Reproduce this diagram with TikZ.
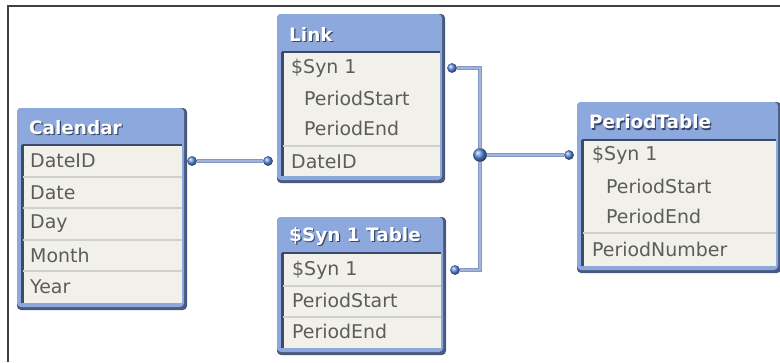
\documentclass[tikz,border=0pt]{standalone}
\usepackage{fontspec}
\setmainfont{DejaVu Sans}
\usetikzlibrary{calc}
\definecolor{framedark}{HTML}{4A5A7E}
\definecolor{headblue}{HTML}{8CA8DD}
\definecolor{bodybg}{HTML}{F1F0E9}
\definecolor{bodyedge}{HTML}{3C4B6C}
\definecolor{sepc}{HTML}{D2D2CC}
\definecolor{rowtext}{HTML}{5C5C5C}
\definecolor{connc}{HTML}{8498C8}
\definecolor{conninner}{HTML}{A4B3D8}
\definecolor{dotc}{HTML}{6090E8}
\definecolor{shadowtxt}{HTML}{3A4868}
\tikzset{
  rowlabel/.style={anchor=west, inner sep=0, text=rowtext, font=\fontsize{19}{20}\selectfont},
  titlelabel/.style={anchor=west, inner sep=0, text=white, font=\fontsize{18.5}{20}\selectfont\bfseries},
  titleshadow/.style={titlelabel, text=shadowtxt},
  seprule/.style={draw=sepc, line width=1.2},
  conn/.style={draw=connc, line width=1, double=conninner, double distance=1.2},
  smalldot/.style={circle, inner sep=0, minimum size=9.5, shading=ball, ball color=dotc},
  bigdot/.style={circle, inner sep=0, minimum size=13.5, shading=ball, ball color=dotc},
  tablebox/.style={rectangle, inner sep=0, draw=none},
  frameline/.style={draw=black!75, line width=1.4}
}
% #1 name, #2 x1, #3 y1, #4 x2, #5 y2, #6 header bottom, #7 title
\newcommand\qvtable[7]{%
  \fill[framedark, rounded corners=4] (#2,#3) rectangle (#4,#5);
  \fill[headblue, rounded corners=4] (#2,#3) rectangle (#4-3,#5-3);
  \fill[bodybg] (#2+5,#6) rectangle (#4-5,#5-7);
  \draw[bodyedge, line width=2.5] (#2+5,#6) -- (#4-5,#6);
  \draw[bodyedge, line width=3] (#2+5.5,#6) -- (#2+5.5,#5-7);
  \node[tablebox, minimum width=#4-#2, minimum height=#5-#3] (#1) at ({(#2+#4)/2},{(#3+#5)/2}) {};
  \node[titleshadow] (#1-tshadow) at (#2+13.2,{(#3+#6)/2+2.2}) {#7};
  \node[titlelabel] (#1-title) at (#2+12,{(#3+#6)/2+1}) {#7};
}
\begin{document}
\begin{tikzpicture}[x=1bp,y=-1bp]
\useasboundingbox (0,0) rectangle (780,362);
\fill[white] (0,0) rectangle (780,362);
\coordinate (fA) at (8,362);
\coordinate (fB) at (8,6);
\coordinate (fC) at (780,6);
\draw[frameline] (fA) -- (fB) -- (fC);

% Calendar
\qvtable{cal}{17}{108}{187}{310}{145}{Calendar}
\foreach \y in {177,208,240,271} \draw[seprule] (23,\y) -- (182,\y);
\node[rowlabel] (cal-r1) at (30,161) {DateID};
\node[rowlabel] (cal-r2) at (30,192.5) {Date};
\node[rowlabel] (cal-r3) at (30,224) {Day};
\node[rowlabel] (cal-r4) at (30,255.5) {Month};
\node[rowlabel] (cal-r5) at (30,287) {Year};

% Link
\qvtable{link}{277}{14}{445}{183}{52}{Link}
\draw[seprule] (283,146) -- (440,146);
\node[rowlabel] (link-r1) at (291,68) {\$Syn 1};
\node[rowlabel] (link-r2) at (304,98) {PeriodStart};
\node[rowlabel] (link-r3) at (304,128) {PeriodEnd};
\node[rowlabel] (link-r4) at (291,162) {DateID};

% $Syn 1 Table
\qvtable{synt}{277}{217}{446}{355}{253}{\$Syn 1 Table}
\foreach \y in {286,317} \draw[seprule] (283,\y) -- (441,\y);
\node[rowlabel] (synt-r1) at (292,270) {\$Syn 1};
\node[rowlabel] (synt-r2) at (292,300) {PeriodStart};
\node[rowlabel] (synt-r3) at (292,331) {PeriodEnd};

% PeriodTable
\qvtable{pt}{577}{102}{781}{273}{140}{PeriodTable}
\draw[seprule] (583,233) -- (776,233);
\node[rowlabel] (pt-r1) at (592,155) {\$Syn 1};
\node[rowlabel] (pt-r2) at (606,186) {PeriodStart};
\node[rowlabel] (pt-r3) at (606,216) {PeriodEnd};
\node[rowlabel] (pt-r4) at (592,249) {PeriodNumber};

% connectors
\node[smalldot] (d-cal) at (192,161) {};
\node[smalldot] (d-link-date) at (268,161) {};
\node[smalldot] (d-link-syn) at (452,68) {};
\node[smalldot] (d-synt) at (455,270) {};
\node[smalldot] (d-pt) at (569,155) {};
\node[bigdot] (junc) at (480,155) {};
\draw[conn] (d-cal) -- (d-link-date);
\draw[conn] (d-link-syn) -| (junc);
\draw[conn] (junc) |- (d-synt);
\draw[conn] (junc) -- (d-pt);
\node[smalldot] at (d-cal) {};
\node[smalldot] at (d-link-date) {};
\node[smalldot] at (d-link-syn) {};
\node[smalldot] at (d-synt) {};
\node[smalldot] at (d-pt) {};
\node[bigdot] at (junc) {};
\end{tikzpicture}
\end{document}
